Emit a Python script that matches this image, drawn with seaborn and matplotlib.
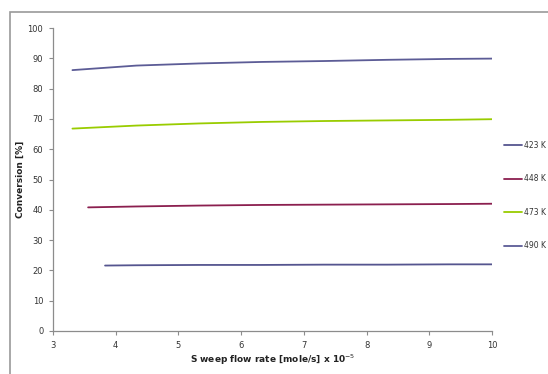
import matplotlib
matplotlib.use("Agg")
import matplotlib.pyplot as plt
import seaborn as sns
import pandas as pd
from matplotlib.patches import Rectangle
from matplotlib.lines import Line2D

sns.set_theme(style="white")
plt.rcParams['font.family'] = ['DejaVu Sans']

labels = ["423 K", "448 K", "473 K", "490 K"]
colors = ["#55558f", "#8b1f4f", "#99cc00", "#5c5c96"]

x_423 = [3.83, 4.33, 5.33, 6.33, 7.33, 8.33, 9.33, 10.0]
y_423 = [21.6, 21.7, 21.8, 21.8, 21.9, 21.9, 22.0, 22.0]
x_448 = [3.56, 4.33, 5.33, 6.33, 7.33, 8.33, 9.33, 10.0]
y_448 = [40.8, 41.1, 41.4, 41.6, 41.7, 41.8, 41.9, 42.0]
x_473 = [3.31, 4.33, 5.33, 6.33, 7.33, 8.33, 9.33, 10.0]
y_473 = [66.8, 67.8, 68.5, 69.0, 69.3, 69.5, 69.7, 69.9]
x_490 = [3.31, 4.33, 5.33, 6.33, 7.33, 8.33, 9.33, 10.0]
y_490 = [86.1, 87.6, 88.3, 88.8, 89.1, 89.5, 89.8, 89.9]

xs = [x_423, x_448, x_473, x_490]
ys = [y_423, y_448, y_473, y_490]
df = pd.concat([pd.DataFrame({"x": xv, "y": yv, "series": lab})
                for xv, yv, lab in zip(xs, ys, labels)], ignore_index=True)

fig = plt.figure(figsize=(5.48, 3.74), dpi=100)
ax = fig.add_axes([53/548, 1-331/374, (492-53)/548, (331-28)/374])

sns.lineplot(data=df, x="x", y="y", hue="series", palette=dict(zip(labels, colors)),
             linewidth=1.3, ax=ax, legend=False, sort=False, estimator=None)

ax.set_xlim(3, 10)
ax.set_ylim(0, 100)
ax.set_xticks(range(3, 11))
ax.set_yticks(range(0, 101, 10))
for s in ["top", "right"]:
    ax.spines[s].set_visible(False)
for s in ["left", "bottom"]:
    ax.spines[s].set_color("#8c8c8c")
    ax.spines[s].set_linewidth(0.9)
ax.tick_params(axis="both", which="major", length=3, width=0.8, color="#8c8c8c",
               labelsize=6, labelcolor="#333333", direction="out", pad=4,
               left=True, bottom=True)
ax.set_xlabel("S weep flow rate [mole/s] x 10$^{-5}$", fontsize=6.5, fontweight="bold",
              color="#222222", va="center")
ax.xaxis.set_label_coords(0.5, (331-360)/303)
ax.set_ylabel("Conversion [%]", fontsize=6.5, fontweight="bold", color="#222222", va="center")
ax.yaxis.set_label_coords((20-53)/439, 0.5)

handles = [Line2D([0], [0], color=c, lw=1.3) for c in colors]
leg = fig.legend(handles, labels, loc="upper left", bbox_to_anchor=(504/548, 1-141/374),
                 frameon=False, fontsize=5.5, handlelength=2.3, handletextpad=0.3,
                 labelspacing=3.2, borderpad=0, borderaxespad=0)
for t in leg.get_texts():
    t.set_color("#333333")

fig.patches.append(Rectangle((10/548, -0.1), 1.2, 1-12/374+0.1, transform=fig.transFigure,
                             fill=False, edgecolor="#9a9a9a", linewidth=1.2, zorder=0))

fig.savefig("out.png", dpi=100)
